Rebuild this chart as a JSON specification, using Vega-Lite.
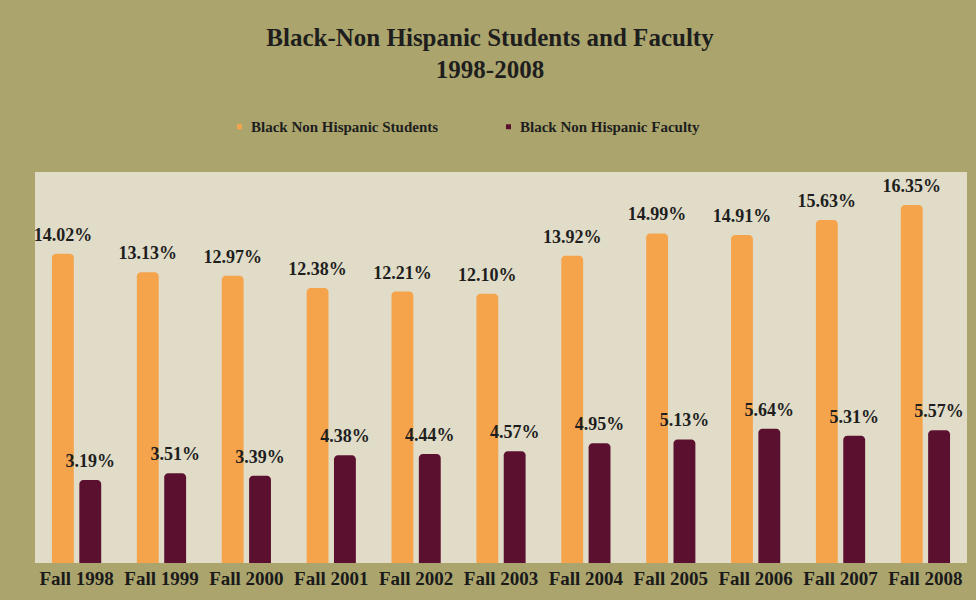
{
  "$schema": "https://vega.github.io/schema/vega-lite/v6.json",
  "autosize": {"type": "none"},
  "width": 932,
  "height": 391,
  "padding": {"left": 35, "top": 172, "right": 9, "bottom": 37},
  "background": "#aba56d",
  "title": {
    "text": ["Black-Non Hispanic Students and Faculty", "1998-2008"],
    "font": "Liberation Serif",
    "fontSize": 25,
    "fontWeight": "bold",
    "color": "#1e1e1e",
    "lineHeight": 32,
    "anchor": "middle",
    "dx": -11,
    "offset": 36
  },
  "config": {
    "view": {"fill": "#e0dcc8", "stroke": null},
    "font": "Liberation Serif"
  },
  "data": {
    "values": [
      {"year": "Fall 1998", "group": "Black Non Hispanic Students", "value": 14.02, "label": "14.02%"},
      {"year": "Fall 1999", "group": "Black Non Hispanic Students", "value": 13.13, "label": "13.13%"},
      {"year": "Fall 2000", "group": "Black Non Hispanic Students", "value": 12.97, "label": "12.97%"},
      {"year": "Fall 2001", "group": "Black Non Hispanic Students", "value": 12.38, "label": "12.38%"},
      {"year": "Fall 2002", "group": "Black Non Hispanic Students", "value": 12.21, "label": "12.21%"},
      {"year": "Fall 2003", "group": "Black Non Hispanic Students", "value": 12.10, "label": "12.10%"},
      {"year": "Fall 2004", "group": "Black Non Hispanic Students", "value": 13.92, "label": "13.92%"},
      {"year": "Fall 2005", "group": "Black Non Hispanic Students", "value": 14.99, "label": "14.99%"},
      {"year": "Fall 2006", "group": "Black Non Hispanic Students", "value": 14.91, "label": "14.91%"},
      {"year": "Fall 2007", "group": "Black Non Hispanic Students", "value": 15.63, "label": "15.63%"},
      {"year": "Fall 2008", "group": "Black Non Hispanic Students", "value": 16.35, "label": "16.35%"},
      {"year": "Fall 1998", "group": "Black Non Hispanic Faculty", "value": 3.19, "label": "3.19%"},
      {"year": "Fall 1999", "group": "Black Non Hispanic Faculty", "value": 3.51, "label": "3.51%"},
      {"year": "Fall 2000", "group": "Black Non Hispanic Faculty", "value": 3.39, "label": "3.39%"},
      {"year": "Fall 2001", "group": "Black Non Hispanic Faculty", "value": 4.38, "label": "4.38%"},
      {"year": "Fall 2002", "group": "Black Non Hispanic Faculty", "value": 4.44, "label": "4.44%"},
      {"year": "Fall 2003", "group": "Black Non Hispanic Faculty", "value": 4.57, "label": "4.57%"},
      {"year": "Fall 2004", "group": "Black Non Hispanic Faculty", "value": 4.95, "label": "4.95%"},
      {"year": "Fall 2005", "group": "Black Non Hispanic Faculty", "value": 5.13, "label": "5.13%"},
      {"year": "Fall 2006", "group": "Black Non Hispanic Faculty", "value": 5.64, "label": "5.64%"},
      {"year": "Fall 2007", "group": "Black Non Hispanic Faculty", "value": 5.31, "label": "5.31%"},
      {"year": "Fall 2008", "group": "Black Non Hispanic Faculty", "value": 5.57, "label": "5.57%"}
    ]
  },
  "encoding": {
    "x": {
      "field": "year",
      "type": "nominal",
      "sort": null,
      "scale": {"paddingInner": 0.42, "paddingOuter": 0.2},
      "axis": {
        "title": null,
        "labelAngle": 0,
        "domain": false,
        "ticks": false,
        "labelFont": "Liberation Serif",
        "labelFontWeight": "bold",
        "labelFontSize": 19,
        "labelColor": "#1a1a1a",
        "labelPadding": 6,
        "labelLimit": 200
      }
    },
    "xOffset": {
      "field": "group",
      "type": "nominal",
      "sort": ["Black Non Hispanic Students", "Black Non Hispanic Faculty"],
      "scale": {"paddingInner": 0.2}
    },
    "y": {
      "field": "value",
      "type": "quantitative",
      "scale": {"domain": [-0.78, 17.93], "nice": false, "zero": false},
      "axis": null
    }
  },
  "layer": [
    {
      "mark": {"type": "bar", "cornerRadiusTopLeft": 4, "cornerRadiusTopRight": 4},
      "encoding": {
        "y2": {"datum": -0.78},
        "color": {
          "field": "group",
          "type": "nominal",
          "sort": ["Black Non Hispanic Students", "Black Non Hispanic Faculty"],
          "scale": {
            "domain": ["Black Non Hispanic Students", "Black Non Hispanic Faculty"],
            "range": ["#f5a44c", "#5c1030"]
          },
          "legend": {
            "title": null,
            "orient": "none",
            "direction": "horizontal",
            "legendX": 197,
            "legendY": -53,
            "symbolType": "square",
            "symbolSize": 25,
            "labelOffset": 4,
            "labelFont": "Liberation Serif",
            "labelFontWeight": "bold",
            "labelFontSize": 15,
            "labelLimit": 300,
            "labelColor": "#1e1e1e",
            "columnPadding": 62
          }
        }
      }
    },
    {
      "mark": {
        "type": "text",
        "baseline": "bottom",
        "dy": -9,
        "font": "Liberation Serif",
        "fontWeight": "bold",
        "fontSize": 18,
        "color": "#1e1e1e"
      },
      "encoding": {
        "text": {"field": "label"}
      }
    }
  ]
}
